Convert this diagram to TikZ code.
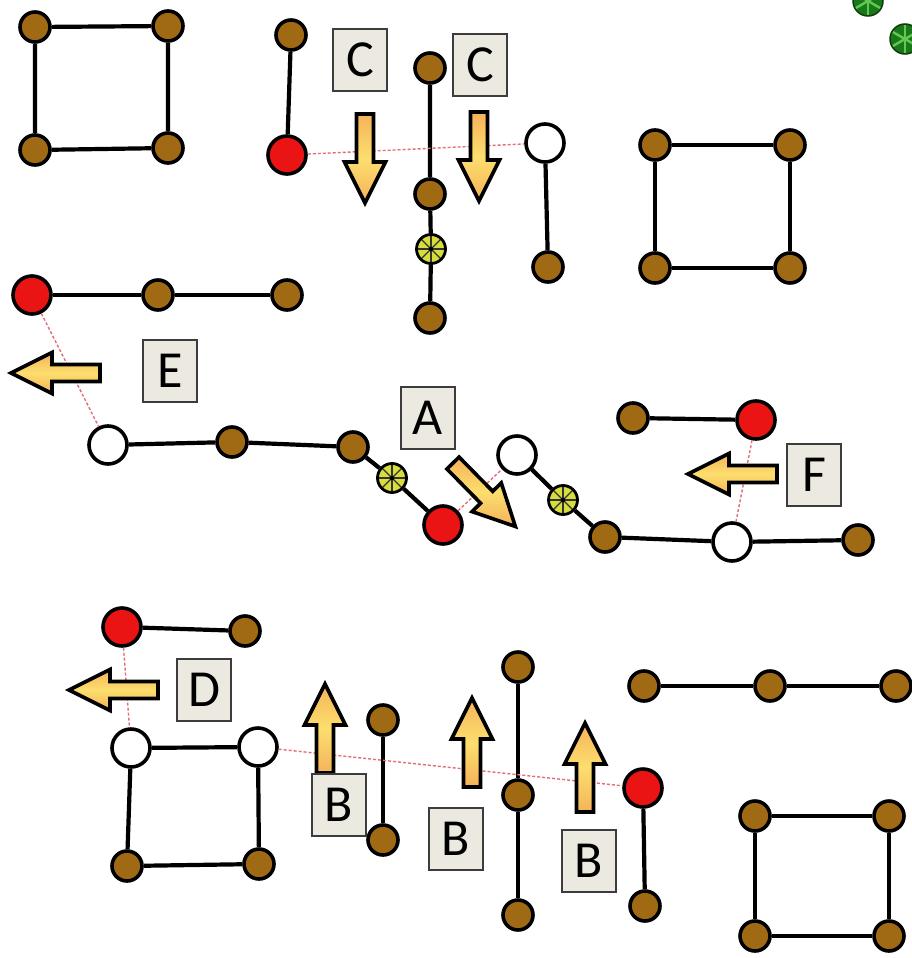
\documentclass[tikz,border=0pt]{standalone}
\usepackage{fontspec}
\setmainfont{Carlito}
\definecolor{nbrown}{RGB}{160,105,20}
\definecolor{nred}{RGB}{235,20,20}
\definecolor{nhub}{RGB}{215,222,60}
\definecolor{ngreen}{RGB}{25,120,25}
\definecolor{nlgreen}{RGB}{100,200,80}
\definecolor{aedge}{RGB}{245,178,90}
\definecolor{amid}{RGB}{252,222,110}
\definecolor{labfill}{RGB}{236,234,224}
\definecolor{labline}{RGB}{60,60,60}
\definecolor{tiecol}{RGB}{225,110,120}
\tikzset{
  dot/.style={circle, draw=black, line width=3.6pt, inner sep=0pt},
  bdot/.style={dot, fill=nbrown, minimum size=30pt},
  rdot/.style={dot, fill=nred, minimum size=38pt},
  wdot/.style={dot, fill=white, minimum size=38pt},
  hub/.style={dot, fill=nhub, minimum size=29pt, line width=2.8pt,
    path picture={
      \foreach \a in {0,45,...,315}{\draw[line width=1.1pt, black!80] (path picture bounding box.center) -- ++(\a:16pt);}
      \fill[black] (path picture bounding box.center) circle (2.2pt);}},
  ghub/.style={dot, draw=ngreen!50!black, fill=ngreen, minimum size=30pt, line width=1.5pt,
    path picture={
      \foreach \a in {0,60,...,300}{\draw[line width=2.4pt, nlgreen] (path picture bounding box.center) -- ++(\a+30:16pt);}}},
  edge/.style={line width=4.2pt, black},
  tie/.style={line width=1.4pt, tiecol, dash pattern=on 3pt off 2pt},
  lab/.style={draw=labline, line width=1.3pt, fill=labfill, minimum width=54pt, minimum height=62pt, inner sep=0pt, font=\fontsize{52}{52}\selectfont},
  barrow/.pic={
    \draw[line width=3.6pt, black, line join=miter, top color=aedge, bottom color=aedge, middle color=amid]
      (0,-8.5) -- (48,-8.5) -- (48,-20.5) -- (89,0) -- (48,20.5) -- (48,8.5) -- (0,8.5) -- cycle;}
}
\begin{document}
\begin{tikzpicture}[x=1pt,y=-1pt]
\useasboundingbox (0,0) rectangle (912,958);
% ---------- nodes ----------
% top-left square
\node[bdot] (s1a) at (35,27) {};
\node[bdot] (s1b) at (168,26) {};
\node[bdot] (s1c) at (35,150) {};
\node[bdot] (s1d) at (168,148) {};
% top vertical with red
\node[bdot] (v1t) at (291,35) {};
\node[rdot] (v1r) at (287,155) {};
% central top vertical
\node[bdot] (v2a) at (430,68) {};
\node[bdot] (v2b) at (430,194) {};
\node[hub]  (v2h) at (431,249) {};
\node[bdot] (v2c) at (430,318) {};
% white vertical
\node[wdot] (v3w) at (545,143) {};
\node[bdot] (v3b) at (548,267) {};
% top-right square
\node[bdot] (s2a) at (655,145) {};
\node[bdot] (s2b) at (790,145) {};
\node[bdot] (s2c) at (655,268) {};
\node[bdot] (s2d) at (790,268) {};
% row E
\node[rdot] (e1) at (32,295) {};
\node[bdot] (e2) at (158,295) {};
\node[bdot] (e3) at (287,295) {};
% chain left
\node[wdot] (c1) at (108,445) {};
\node[bdot] (c2) at (232,442) {};
\node[bdot] (c3) at (353,447) {};
\node[hub]  (c4) at (392,478) {};
\node[rdot] (c5) at (443,525) {};
% chain right
\node[wdot] (d1) at (517,455) {};
\node[hub]  (d2) at (563,500) {};
\node[bdot] (d3) at (605,537) {};
\node[wdot] (d4) at (732,542) {};
\node[bdot] (d5) at (858,540) {};
% row F
\node[bdot] (f1) at (633,418) {};
\node[rdot] (f2) at (756,420) {};
% row D
\node[rdot] (g1) at (122,627) {};
\node[bdot] (g2) at (245,631) {};
% bottom-left square
\node[wdot] (s3a) at (131,748) {};
\node[wdot] (s3b) at (258,747) {};
\node[bdot] (s3c) at (127,866) {};
\node[bdot] (s3d) at (259,864) {};
% bottom verticals
\node[bdot] (h1a) at (383,720) {};
\node[bdot] (h1b) at (383,840) {};
\node[bdot] (h2a) at (518,667) {};
\node[bdot] (h2b) at (518,795) {};
\node[bdot] (h2c) at (518,915) {};
\node[rdot] (h3a) at (643,788) {};
\node[bdot] (h3b) at (645,906) {};
% bottom-right row
\node[bdot] (r1) at (644,686) {};
\node[bdot] (r2) at (770,686) {};
\node[bdot] (r3) at (896,686) {};
% bottom-right square
\node[bdot] (s4a) at (755,816) {};
\node[bdot] (s4b) at (889,816) {};
\node[bdot] (s4c) at (755,936) {};
\node[bdot] (s4d) at (889,936) {};
% green wheels (top-right, cut off)
\node[ghub] (gw1) at (868,1) {};
\node[ghub] (gw2) at (905,39) {};
% ---------- edges ----------
\draw[edge] (s1a) -- (s1b) -- (s1d) -- (s1c) -- (s1a);
\draw[edge] (v1t) -- (v1r);
\draw[edge] (v2a) -- (v2b) -- (v2h) -- (v2c);
\draw[edge] (v3w) -- (v3b);
\draw[edge] (s2a) -- (s2b) -- (s2d) -- (s2c) -- (s2a);
\draw[edge] (e1) -- (e2) -- (e3);
\draw[edge] (c1) -- (c2) -- (c3) -- (c4) -- (c5);
\draw[edge] (d1) -- (d2) -- (d3) -- (d4) -- (d5);
\draw[edge] (f1) -- (f2);
\draw[edge] (g1) -- (g2);
\draw[edge] (s3a) -- (s3b) -- (s3d) -- (s3c) -- (s3a);
\draw[edge] (h1a) -- (h1b);
\draw[edge] (h2a) -- (h2b) -- (h2c);
\draw[edge] (h3a) -- (h3b);
\draw[edge] (r1) -- (r2) -- (r3);
\draw[edge] (s4a) -- (s4b) -- (s4d) -- (s4c) -- (s4a);
% ---------- dashed ties ----------
\draw[tie] (v1r) -- (v3w);
\draw[tie] (e1) -- (c1);
\draw[tie] (c5) -- (d1);
\draw[tie] (f2) -- (d4);
\draw[tie] (g1) -- (s3a);
\draw[tie] (s3b) -- (h3a);
% ---------- arrows ----------
\pic[rotate=-90] (arC1) at (365,114) {barrow};
\pic[rotate=-90] (arC2) at (479,112) {barrow};
\pic[rotate=180] (arE) at (100,373) {barrow};
\pic[rotate=-45.5] (arA) at (453,463) {barrow};
\pic[rotate=180] (arF) at (777,474) {barrow};
\pic[rotate=180] (arD) at (158,690) {barrow};
\pic[rotate=90] (arB1) at (325,773) {barrow};
\pic[rotate=90] (arB2) at (472,787) {barrow};
\pic[rotate=90] (arB3) at (585,812) {barrow};
% ---------- labels ----------
\node[lab] (lC1) at (360,60) {C};
\node[lab] (lC2) at (480,65) {C};
\node[lab] (lE) at (170,371) {E};
\node[lab] (lA) at (428,418) {A};
\node[lab] (lF) at (814,475) {F};
\node[lab] (lD) at (204,690) {D};
\node[lab] (lB1) at (339,805) {B};
\node[lab] (lB2) at (456,839) {B};
\node[lab] (lB3) at (589,861) {B};
\end{tikzpicture}
\end{document}
